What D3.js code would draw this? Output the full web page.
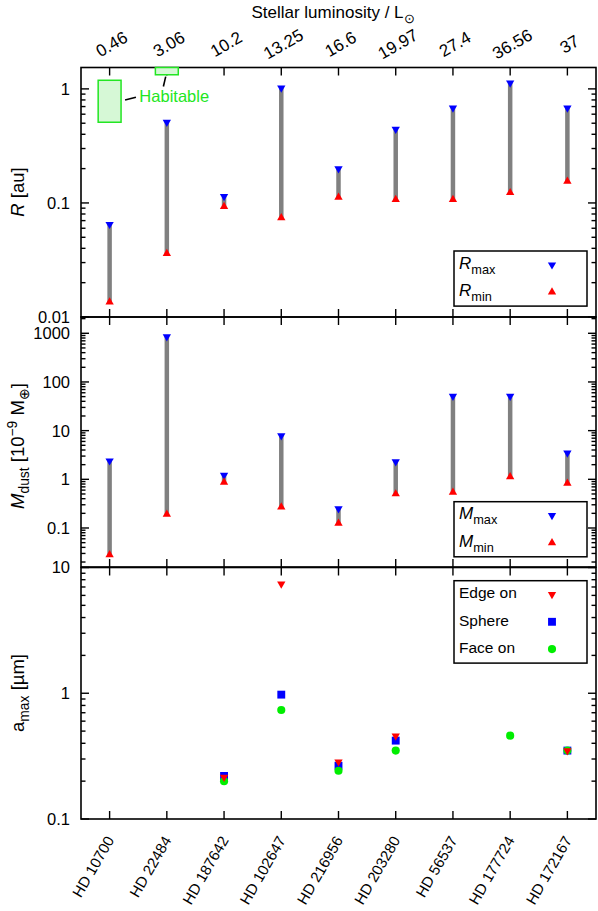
<!DOCTYPE html>
<html>
<head>
<meta charset="utf-8">
<script src="https://cdn.jsdelivr.net/npm/d3@7"></script>
<style>
  body { margin: 0; background: #fff; }
  svg text { font-family: "Liberation Sans", Arial, Helvetica, sans-serif; fill: #000; }
</style>
</head>
<body>
<div id="chart"></div>
<script>
// ---- data ----
var stars = ["HD 10700", "HD 22484", "HD 187642", "HD 102647", "HD 216956",
             "HD 203280", "HD 56537", "HD 177724", "HD 172167"];
var luminosity = ["0.46", "3.06", "10.2", "13.25", "16.6", "19.97", "27.4", "36.56", "37"];

var rMax = [0.065, 0.51, 0.114, 1.02, 0.2, 0.443, 0.68, 1.13, 0.68];
var rMin = [0.0135, 0.036, 0.093, 0.074, 0.112, 0.107, 0.107, 0.123, 0.155];

var mMax = [2.4, 850, 1.22, 7.9, 0.25, 2.3, 51, 51, 3.5];
var mMin = [0.028, 0.19, 0.87, 0.27, 0.125, 0.5, 0.54, 1.13, 0.83];

var aEdge = [null, null, 0.215, 7.4, 0.285, 0.457, null, null, 0.35];
var aSphere = [null, null, 0.22, 0.975, 0.265, 0.42, null, null, 0.35];
var aFace = [null, null, 0.2, 0.736, 0.242, 0.35, null, 0.46, 0.35];

// habitable zone boxes (star index, inner / outer edge in au)
var habStar = [0, 1];
var habInner = [0.51, 1.33];
var habOuter = [1.19, 3.1];

var yTickLabels1 = ["0.01", "0.1", "1"];
var yTickLabels2 = ["0.1", "1", "10", "100", "1000"];
var yTickLabels3 = ["0.1", "1", "10"];

// ---- layout ----
var W = 598, H = 911;
var left = 81, right = 596;
var GREEN = "#22e622", GRAY = "#808080";

var svg = d3.select("#chart").append("svg")
    .attr("width", W).attr("height", H);

var x = d3.scaleLinear().domain([-0.5, 8.5]).range([left, right]);

var y1 = d3.scaleLog().domain([0.01, 1.54]).range([317, 67.5]);
var y2 = d3.scaleLog().domain([0.0158, 2160]).range([567, 317]);
var y3 = d3.scaleLog().domain([0.1, 10]).range([819, 567.5]);

// text with italic / sub / sup pieces
var rich = function (sel, parts) {
    var shift = 0;
    parts.forEach(function (p) {
        var ts = sel.append("tspan").text(p.t);
        var want = p.sub ? 5 : (p.sup ? -7 : 0);
        if (want !== shift) { ts.attr("dy", want - shift); shift = want; }
        if (p.sub || p.sup) ts.attr("font-size", "0.75em");
        if (p.i) ts.attr("font-style", "italic");
    });
    return sel;
};

var drawFrame = function (y, labels) {
    var y0 = y.range()[0], yTop = y.range()[1];
    var g = svg.append("g");
    // x ticks, both edges, inward
    stars.forEach(function (s, i) {
        g.append("line").attr("x1", x(i)).attr("x2", x(i))
            .attr("y1", y0).attr("y2", y0 - 8);
        g.append("line").attr("x1", x(i)).attr("x2", x(i))
            .attr("y1", yTop).attr("y2", yTop + 8);
    });
    // y ticks, log majors + minors
    y.ticks().forEach(function (t) {
        var lg = Math.log10(t);
        var major = Math.abs(lg - Math.round(lg)) < 1e-6;
        var len = major ? 8 : 4.5;
        g.append("line").attr("x1", left).attr("x2", left + len)
            .attr("y1", y(t)).attr("y2", y(t));
        g.append("line").attr("x1", right).attr("x2", right - len)
            .attr("y1", y(t)).attr("y2", y(t));
    });
    g.selectAll("line").attr("stroke", "#000").attr("stroke-width", 1.4);
    g.append("rect").attr("x", left).attr("y", yTop)
        .attr("width", right - left).attr("height", y0 - yTop)
        .attr("fill", "none").attr("stroke", "#000").attr("stroke-width", 1.6);
    labels.forEach(function (l) {
        g.append("text").attr("x", 70).attr("y", y(+l)).attr("dy", "0.36em")
            .attr("text-anchor", "end").attr("font-size", 16.5).text(l);
    });
};

var tri = function () {
    return d3.symbol().type(d3.symbolTriangle).size(30)();
};

var drawRange = function (y, lo, hi) {
    var g = svg.append("g");
    stars.forEach(function (s, i) {
        g.append("line").attr("x1", x(i)).attr("x2", x(i))
            .attr("y1", y(lo[i])).attr("y2", y(hi[i]))
            .attr("stroke", GRAY).attr("stroke-width", 4.5);
    });
    stars.forEach(function (s, i) {
        g.append("path").attr("d", tri())
            .attr("transform", "translate(" + x(i) + "," + y(hi[i]) + ") rotate(180)")
            .attr("fill", "#0000ff");
        g.append("path").attr("d", tri())
            .attr("transform", "translate(" + x(i) + "," + y(lo[i]) + ")")
            .attr("fill", "#ff0000");
    });
};

var drawLegend = function (top, entries) {
    var g = svg.append("g");
    g.append("rect").attr("x", 454).attr("y", top)
        .attr("width", 133).attr("height", entries.length * 27.3 + 0.5)
        .attr("fill", "#fff").attr("stroke", "#000").attr("stroke-width", 1.5);
    entries.forEach(function (e, k) {
        rich(g.append("text").attr("x", 459).attr("y", top + 17.5 + 27.3 * k)
            .attr("font-size", e.fs || 17), e.parts);
        g.append("path").attr("d", e.symbol)
            .attr("transform", "translate(552," + (top + 13.8 + 27.3 * k) + ")" + (e.rot ? " rotate(180)" : ""))
            .attr("fill", e.color);
    });
};

// ---- panel 1: radius ----
drawFrame(y1, yTickLabels1);

var hab = svg.append("g");
habStar.forEach(function (s, k) {
    var yt = Math.max(y1(habOuter[k]), y1.range()[1]);
    hab.append("rect").attr("x", x(s - 0.2)).attr("y", yt)
        .attr("width", x(s + 0.2) - x(s - 0.2))
        .attr("height", y1(habInner[k]) - yt)
        .attr("fill", "#d6f8d6").attr("stroke", GREEN).attr("stroke-width", 1.5);
});
hab.append("line").attr("x1", x(0.27)).attr("y1", y1(0.8))
    .attr("x2", x(0.46)).attr("y2", y1(0.845))
    .attr("stroke", "#000").attr("stroke-width", 1.6);
hab.append("line").attr("x1", x(0.98)).attr("y1", y1(1.28))
    .attr("x2", x(0.94)).attr("y2", y1(1.05))
    .attr("stroke", "#000").attr("stroke-width", 1.6);
hab.append("text").attr("x", x(0.52)).attr("y", y1(0.76))
    .attr("font-size", 16.5).style("fill", GREEN).text("Habitable");

drawRange(y1, rMin, rMax);

drawLegend(251, [
    {parts: [{t: "R", i: true}, {t: "max", sub: true}], symbol: tri(), rot: true, color: "#0000ff"},
    {parts: [{t: "R", i: true}, {t: "min", sub: true}], symbol: tri(), color: "#ff0000"}
]);

// top axis: luminosity
stars.forEach(function (s, i) {
    svg.append("text")
        .attr("transform", "translate(" + (x(i) + 2) + ",44) rotate(-30)")
        .attr("text-anchor", "middle").attr("dy", "0.35em")
        .attr("font-size", 17).text(luminosity[i]);
});
rich(svg.append("text").attr("x", 333).attr("y", 18).attr("text-anchor", "middle")
    .attr("font-size", 17), [{t: "Stellar luminosity / L"}, {t: "\u2299", sub: true}]);

// ---- panel 2: dust mass ----
drawFrame(y2, yTickLabels2);
drawRange(y2, mMin, mMax);
drawLegend(501.7, [
    {parts: [{t: "M", i: true}, {t: "max", sub: true}], symbol: tri(), rot: true, color: "#0000ff"},
    {parts: [{t: "M", i: true}, {t: "min", sub: true}], symbol: tri(), color: "#ff0000"}
]);

// ---- panel 3: max grain size ----
drawFrame(y3, yTickLabels3);
var sq = d3.symbol().type(d3.symbolSquare).size(62)();
var circ = d3.symbol().type(d3.symbolCircle).size(52)();
var pts = svg.append("g");
[[aSphere, sq, "#0000ff", false], [aFace, circ, "#00ee00", false], [aEdge, tri(), "#ff0000", true]]
    .forEach(function (ser) {
        ser[0].forEach(function (v, i) {
            if (v == null) return;
            pts.append("path").attr("d", ser[1])
                .attr("transform", "translate(" + x(i) + "," + y3(v) + ")" + (ser[3] ? " rotate(180)" : ""))
                .attr("fill", ser[2]);
        });
    });
drawLegend(580.7, [
    {parts: [{t: "Edge on"}], fs: 15.5, symbol: tri(), rot: true, color: "#ff0000"},
    {parts: [{t: "Sphere"}], fs: 15.5, symbol: sq, color: "#0000ff"},
    {parts: [{t: "Face on"}], fs: 15.5, symbol: circ, color: "#00ee00"}
]);

// bottom axis: star names
stars.forEach(function (s, i) {
    svg.append("text")
        .attr("transform", "translate(" + (x(i) + 5) + ",840) rotate(-60)")
        .attr("text-anchor", "end").attr("font-size", 15).text(s);
});

// ---- y axis titles ----
var ylab = function (cy, parts) {
    rich(svg.append("text").attr("transform", "translate(24," + cy + ") rotate(-90)")
        .attr("text-anchor", "middle").attr("font-size", 18.5), parts);
};
ylab(192, [{t: "R", i: true}, {t: " [au]"}]);
ylab(446, [{t: "M", i: true}, {t: "dust", sub: true}, {t: " [10"}, {t: "\u22129", sup: true},
           {t: " M"}, {t: "\u2295", sub: true}, {t: "]"}]);
ylab(693, [{t: "a"}, {t: "max", sub: true}, {t: " [\u00b5m]"}]);
</script>
</body>
</html>
